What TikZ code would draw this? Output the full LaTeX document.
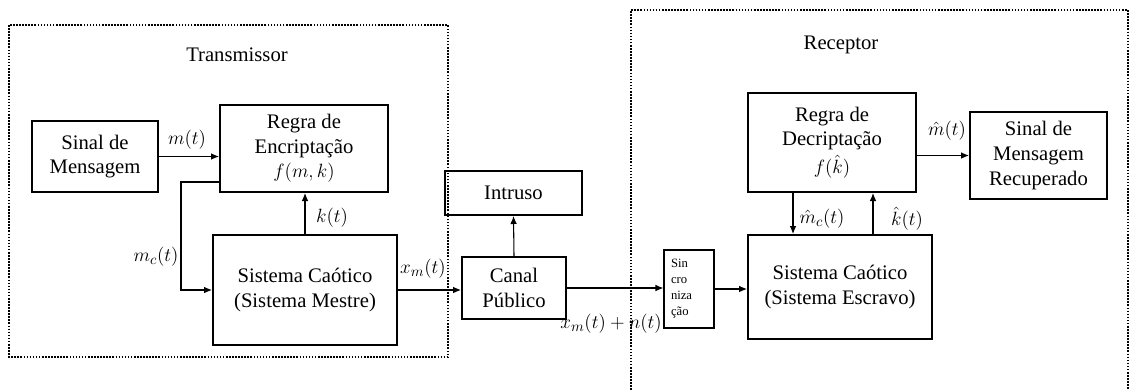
\documentclass[tikz,border=0pt]{standalone}
\usepackage{fontspec}
\setmainfont{Liberation Serif}
\usetikzlibrary{arrows.meta,positioning,calc}
\tikzset{
  bloco/.style   = {rectangle, draw, line width=1.5pt, align=center, inner sep=2pt,
                    font=\fontsize{15.5}{18.5}\selectfont},
  seta/.style    = {-{Latex[length=6pt,width=5pt]}, line width=0.8pt},
  rotulo/.style  = {font=\fontsize{15.5}{18}\selectfont, inner sep=1pt},
  moldura/.style = {line width=1.3pt, dash pattern=on 1.2pt off 1.1pt}
}

\begin{document}
\begin{tikzpicture}[x=0.75pt, y=-0.75pt]
    \useasboundingbox[fill=white] (0,0) rectangle (1130,390);
    % molduras
    \draw[moldura] (9,25) rectangle (448,357);
    \draw[moldura] (631,390) -- (631,10) -- (1128,10) -- (1128,390);
    \node[rotulo] (tx) at (237,55) {Transmissor};
    \node[rotulo] (rx) at (841,45) {Receptor};
    % transmissor
    \node[bloco, minimum width=94.5pt, minimum height=53.25pt] (sinal) at (95,156.5) {Sinal de\\Mensagem};
    \node[bloco, minimum width=126pt, minimum height=65.25pt] (encr) at (304,148.5) {Regra de\\Encripta\c{c}\~ao\\$f(m,k)$};
    \node[bloco, minimum width=138pt, minimum height=82.5pt] (mestre) at (305,290) {Sistema Ca\'otico\\(Sistema Mestre)};
    % canal
    \node[bloco, minimum width=78pt, minimum height=46.5pt] (canal) at (514,288) {Canal\\P\'ublico};
    \node[bloco, minimum width=102.75pt, minimum height=33pt] (intruso) at (513.5,193) {Intruso};
    \node[bloco, line width=0.8pt, minimum width=37.5pt, minimum height=58.5pt, text width=27pt,
          align=left, font=\fontsize{9.5}{12}\selectfont] (sinc) at (689,289) {Sin\\cro\\niza\\\c{c}\~ao};
    % receptor
    \node[bloco, minimum width=126pt, minimum height=74.25pt] (decr) at (832,142.5) {Regra de\\Decripta\c{c}\~ao\\[2pt]$f(\hat{k})$};
    \node[bloco, minimum width=102.75pt, minimum height=65.25pt] (recup) at (1038.5,155.5) {Sinal de\\Mensagem\\Recuperado};
    \node[bloco, minimum width=138pt, minimum height=78pt] (escravo) at (840,287) {Sistema Ca\'otico\\(Sistema Escravo)};
    % ligacoes
    \draw[seta] (sinal.east) -- (sinal.east -| encr.west);
    \draw[seta] ($(encr.south west)+(0,-11)$) -- ++(-38,0) |- (mestre.west);
    \draw[seta] (mestre.north) -- (mestre.north |- encr.south);
    \draw[seta] (mestre.east) -- (mestre.east -| canal.west);
    \draw[seta] (canal.north) -- (intruso.south);
    \draw[seta] (canal.east) -- (canal.east -| sinc.west);
    \draw[seta] (sinc.east) -- (sinc.east -| escravo.west);
    \draw[seta] (recup.west -| decr.east) -- (recup.west);
    \coordinate (mcr) at ($(decr.south)+(-39,0)$);
    \coordinate (kr) at ($(escravo.north)+(33,0)$);
    \draw[seta] (mcr) -- (mcr |- escravo.north);
    \draw[seta] (kr) -- (kr |- decr.south);
    % rotulos
    \node[rotulo] (lm) at (187,140) {$m(t)$};
    \node[rotulo] (lmc) at (156,257) {$m_c(t)$};
    \node[rotulo] (lk) at (332,218) {$k(t)$};
    \node[rotulo] (lxm) at (423,269) {$x_m(t)$};
    \node[rotulo] (lxn) at (611,324) {$x_m(t)+n(t)$};
    \node[rotulo] (lmh) at (947,131) {$\hat{m}(t)$};
    \node[rotulo] (lmch) at (822,219) {$\hat{m}_c(t)$};
    \node[rotulo] (lkh) at (907,219) {$\hat{k}(t)$};
\end{tikzpicture}
\end{document}
